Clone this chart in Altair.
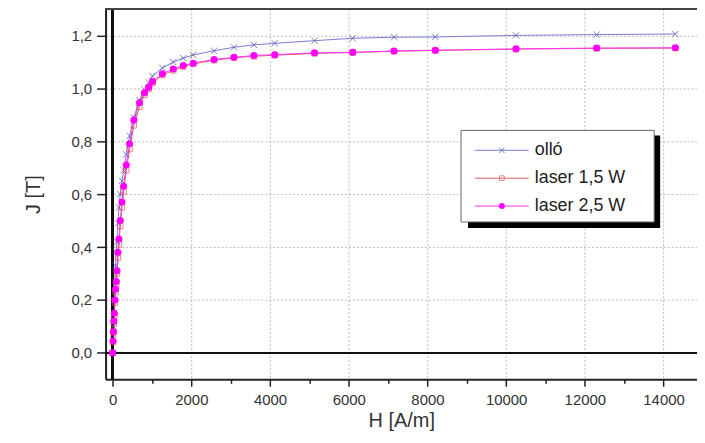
import altair as alt
import pandas as pd

# ---- data ----
H = [0, 10, 20, 30, 42, 59, 76, 93, 110, 135, 160, 194, 236, 278, 345, 430, 539,
     682, 809, 917, 1011, 1264, 1540, 1794, 2047, 2578, 3083, 3589, 4119, 5130,
     6100, 7150, 8200, 10250, 12300, 14300]
J_ollo = [0, 0.05, 0.10, 0.15, 0.20, 0.27, 0.33, 0.38, 0.42, 0.49, 0.55, 0.60, 0.65,
          0.69, 0.75, 0.82, 0.89, 0.955, 0.995, 1.022, 1.046, 1.077, 1.099, 1.114,
          1.126, 1.142, 1.155, 1.164, 1.170, 1.180, 1.189, 1.193, 1.194, 1.200,
          1.203, 1.205]
J_l15 = [0, 0.04, 0.075, 0.11, 0.14, 0.19, 0.23, 0.26, 0.30, 0.36, 0.41, 0.48, 0.55,
         0.61, 0.69, 0.77, 0.86, 0.93, 0.975, 0.998, 1.020, 1.050, 1.068, 1.082,
         1.092, 1.106, 1.115, 1.121, 1.125, 1.132, 1.135, 1.140, 1.143, 1.148,
         1.151, 1.152]
J_l25 = [0, 0.045, 0.08, 0.12, 0.15, 0.20, 0.24, 0.27, 0.31, 0.38, 0.43, 0.50, 0.57,
         0.63, 0.71, 0.79, 0.88, 0.945, 0.983, 1.004, 1.026, 1.055, 1.073, 1.086,
         1.095, 1.109, 1.117, 1.124, 1.127, 1.134, 1.136, 1.141, 1.144, 1.149,
         1.152, 1.153]
series_names = ["olló", "laser 1,5 W", "laser 2,5 W"]
x_ticks = list(range(0, 15000, 1000))
y_ticks = [round(i * 0.1, 1) for i in range(0, 13)]

rows = []
for name, js in zip(series_names, [J_ollo, J_l15, J_l25]):
    for h, j in zip(H, js):
        rows.append({"H": h, "J": j, "s": name})
df = pd.DataFrame(rows)

W, HGT = 594, 372
FONT = "Liberation Sans"
XSHAPE = "M-1,-1L1,1M-1,1L1,-1"

xs = alt.Scale(domain=[-180, 14850], nice=False, zero=False)
ys = alt.Scale(domain=[-0.1, 1.3], nice=False, zero=False)

x_axis = alt.Axis(
    values=x_ticks, title="H [A/m]",
    labelExpr="datum.value % 2000 === 0 ? format(datum.value, 'd') : ''",
    tickSize={"condition": {"test": "datum.value % 2000 === 0", "value": 7}, "value": 4},
    gridOpacity={"condition": {"test": "datum.value % 2000 === 0 && datum.value !== 0", "value": 1}, "value": 0},
    grid=True, gridColor="#bbbbbb", gridDash=[2, 2], gridWidth=1,
    domainColor="#222222", domainWidth=2, tickColor="#222222", tickWidth=1.5,
    labelFont=FONT, labelFontSize=15, labelColor="#333333", labelPadding=6,
    titleFont=FONT, titleFontSize=20, titleFontWeight="normal", titleColor="#333333",
    titlePadding=3,
)
y_axis = alt.Axis(
    values=y_ticks, title="J [T]",
    labelExpr="round(datum.value*10) % 2 === 0 ? replace(format(datum.value, '.1f'), '.', ',') : ''",
    tickSize={"condition": {"test": "round(datum.value*10) % 2 === 0", "value": 9}, "value": 4},
    gridOpacity={"condition": {"test": "round(datum.value*10) % 2 === 0 && datum.value !== 0", "value": 1}, "value": 0},
    grid=True, gridColor="#bbbbbb", gridDash=[2, 2], gridWidth=1,
    domainColor="#222222", domainWidth=2, tickColor="#222222", tickWidth=1.5,
    labelFont=FONT, labelFontSize=15, labelColor="#333333", labelPadding=5,
    titleFont=FONT, titleFontSize=20, titleFontWeight="normal", titleColor="#333333",
    titlePadding=28,
)

base = alt.Chart(df)

line_colors = ["#7b7bd8", "#e06060", "#ff30ff"]
lines = base.mark_line(strokeWidth=1).encode(
    x=alt.X("H:Q", scale=xs, axis=x_axis),
    y=alt.Y("J:Q", scale=ys, axis=y_axis),
    color=alt.Color("s:N", scale=alt.Scale(domain=series_names, range=line_colors), legend=None),
    detail="s:N",
)

def pts(name, **kw):
    return base.transform_filter(alt.datum.s == name).mark_point(**kw).encode(
        x=alt.X("H:Q", scale=xs), y=alt.Y("J:Q", scale=ys))

p_ollo = pts("olló", shape=XSHAPE, size=40, strokeWidth=1, color="#4a4ab0", filled=False)
p_l15 = pts("laser 1,5 W", shape="square", size=30, strokeWidth=1, color="#e05050", filled=False)
p_l25 = pts("laser 2,5 W", shape="circle", size=50, color="#ff00ff", filled=True, opacity=1)

zero_h = alt.Chart(df).mark_rule(color="#111111", strokeWidth=1.5).encode(y=alt.datum(0))
zero_v = alt.Chart(df).mark_rule(color="#111111", strokeWidth=1.5).encode(x=alt.datum(0))
top_rule = alt.Chart(df).mark_rule(color="#444444", strokeWidth=2).encode(
    x=alt.value(0), x2=alt.value(W), y=alt.value(0))

# ---- manual legend (pixel positions inside the plot area) ----
one = pd.DataFrame({"a": [0]})
shadow = alt.Chart(one).mark_rect(color="black").encode(
    x=alt.value(364), x2=alt.value(557), y=alt.value(127), y2=alt.value(220))
box = alt.Chart(one).mark_rect(fill="white", stroke="#666666", strokeWidth=1).encode(
    x=alt.value(357), x2=alt.value(551), y=alt.value(122), y2=alt.value(214))
legend_layers = [shadow, box]
row_y = [142, 170, 198]
marker_kw = [
    dict(shape=XSHAPE, size=30, strokeWidth=1, color="#4a4ab0", filled=False),
    dict(shape="square", size=22, strokeWidth=1, color="#e05050", filled=False),
    dict(shape="circle", size=35, color="#ff00ff", filled=True, opacity=1),
]
for name, yy, col, mk in zip(series_names, row_y, line_colors, marker_kw):
    legend_layers.append(alt.Chart(one).mark_rule(color=col, strokeWidth=1).encode(
        x=alt.value(371), x2=alt.value(425), y=alt.value(yy)))
    legend_layers.append(alt.Chart(one).mark_point(**mk).encode(
        x=alt.value(398), y=alt.value(yy)))
    legend_layers.append(alt.Chart(one).mark_text(
        text=name, font=FONT, fontSize=18, color="#222222", align="left", baseline="middle"
    ).encode(x=alt.value(431), y=alt.value(yy)))

chart = alt.layer(
    lines, zero_h, zero_v, p_ollo, p_l15, p_l25, top_rule, *legend_layers
).properties(
    width=W, height=HGT,
    autosize=alt.AutoSizeParams(type="none"),
    padding={"left": 98, "top": 0, "right": 0, "bottom": 55},
    background="white",
).configure_view(stroke=None)

chart.save("out.html", embed_options={"renderer": "svg", "actions": False})
